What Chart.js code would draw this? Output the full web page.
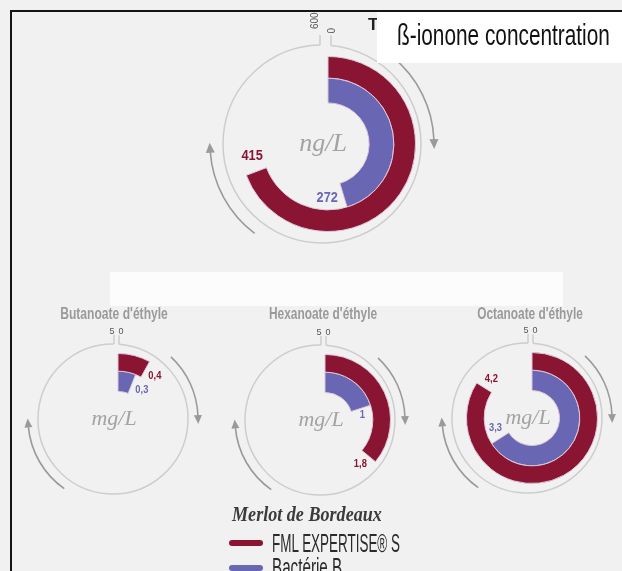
<!DOCTYPE html>
<html>
<head>
<meta charset="utf-8">
<script src="https://cdn.jsdelivr.net/npm/chart.js@4"></script>
<style>
  html,body{margin:0;padding:0;}
  body{width:622px;height:571px;position:relative;overflow:hidden;background:#f1f1f1;font-family:"Liberation Sans",Arial,sans-serif;}
  .abs{position:absolute;}
  canvas{position:absolute;}
  #frame{left:10px;top:10px;width:640px;height:600px;border-left:2px solid #151515;border-top:2px solid #151515;z-index:5;}
  #strip{left:110px;top:272px;width:453px;height:34px;background:#fcfcfc;}
  #tbox{left:377px;top:12px;width:260px;height:51px;background:#ffffff;z-index:4;}
  #title{left:397px;top:20px;font-size:30px;line-height:30px;color:#111;z-index:6;white-space:nowrap;transform-origin:0 0;}
  #tee{left:368px;top:15px;font-size:17px;font-weight:bold;color:#222;z-index:3;}
  .sub{top:305px;font-size:16px;font-weight:bold;color:#9a9a9a;white-space:nowrap;transform-origin:50% 0;}
  #merlot{left:232px;top:502px;font-family:"Liberation Serif",serif;font-style:italic;font-weight:bold;font-size:21px;color:#3b3b3b;white-space:nowrap;transform-origin:0 0;}
  .sw{width:34px;height:6px;border-radius:3px;}
  .lt{font-size:25px;line-height:25px;color:#2b2b2b;white-space:nowrap;transform-origin:0 0;}
</style>
</head>
<body>
<div id="strip" class="abs"></div>
<div id="tbox" class="abs"></div>
<div id="tee" class="abs">T</div>
<div id="title" class="abs"></div>
<div id="frame" class="abs"></div>
<canvas id="c0" width="280" height="280" style="left:188px;top:4px;"></canvas>
<canvas id="c1" width="200" height="200" style="left:18px;top:319px;"></canvas>
<canvas id="c2" width="200" height="200" style="left:225px;top:320px;"></canvas>
<canvas id="c3" width="200" height="200" style="left:432px;top:318px;"></canvas>
<div id="sub1" class="abs sub" style="left:114px;"></div>
<div id="sub2" class="abs sub" style="left:323px;"></div>
<div id="sub3" class="abs sub" style="left:530px;"></div>
<div id="merlot" class="abs">Merlot de Bordeaux</div>
<div class="abs sw" style="left:229px;top:540px;background:#8a1533;"></div>
<div id="lg0" class="abs lt" style="left:272px;top:531px;"></div>
<div class="abs sw" style="left:229px;top:565px;background:#6967b3;"></div>
<div id="lg1" class="abs lt" style="left:272px;top:555px;"></div>
<script>
// ---- data ----
const categories = ["ß-ionone concentration", "Butanoate d'éthyle", "Hexanoate d'éthyle", "Octanoate d'éthyle"];
const seriesNames = ["FML EXPERTISE® S", "Bactérie B"];
const fmlValues = [415, 0.4, 1.8, 4.2];
const bacterieValues = [272, 0.3, 1, 3.3];
const scaleMax = [600, 5, 5, 5];
const tickLabels = [["600", "0"], ["5", "0"], ["5", "0"], ["5", "0"]];
const units = ["ng/L", "mg/L", "mg/L", "mg/L"];

// ---- styles ----
const RED = "#8a1533", BLUE = "#6967b3", SEP = "#dcc6d8";
const GRAY = "#cdcdcd", ARROW = "#9a9a9a";

document.getElementById("title").textContent = categories[0];
document.getElementById("sub1").textContent = categories[1];
document.getElementById("sub2").textContent = categories[2];
document.getElementById("sub3").textContent = categories[3];
document.getElementById("lg0").textContent = seriesNames[0];
document.getElementById("lg1").textContent = seriesNames[1];

// condense text to target widths (the original uses a condensed typeface)
function fit(id, w, centred) {
  const el = document.getElementById(id);
  const s = w / el.offsetWidth;
  el.style.transform = (centred ? "translateX(-50%) " : "") + "scaleX(" + s + ")";
}
fit("title", 213);
fit("sub1", 108, true); fit("sub2", 108, true); fit("sub3", 106, true);
fit("lg0", 128); fit("lg1", 70);
fit("merlot", 150);

function fmt(v){ return String(v).replace(".", ","); }
const deg = d => (d - 90) * Math.PI / 180;

const deco = {
  id: "deco",
  beforeDatasetsDraw(chart, args, o) {
    const el = chart.getDatasetMeta(0).data[0];
    const ctx = chart.ctx;
    const gx = el.x + o.gdx, gy = el.y, gR = o.gR;
    ctx.save();
    const tl = el.x + o.tickL, tr = el.x + o.tickR;
    const aR = -Math.PI/2 + Math.asin((tr - gx)/gR);
    const aL = -Math.PI/2 + Math.asin((tl - gx)/gR) + 2*Math.PI;
    ctx.strokeStyle = GRAY; ctx.lineWidth = 1.5;
    ctx.beginPath(); ctx.arc(gx, gy, gR, aR, aL); ctx.stroke();
    const yL = gy - Math.sqrt(gR*gR - (tl-gx)*(tl-gx));
    const yR = gy - Math.sqrt(gR*gR - (tr-gx)*(tr-gx));
    ctx.beginPath();
    ctx.moveTo(tl, yL); ctx.lineTo(tl, yL - o.tickLen);
    ctx.moveTo(tr, yR); ctx.lineTo(tr, yR - o.tickLen);
    ctx.stroke();
    ctx.fillStyle = "#555";
    ctx.font = o.tickFont;
    if (o.rotated) {
      ctx.textAlign = "left"; ctx.textBaseline = "middle";
      ctx.save(); ctx.translate(tl - 5, yL - o.tickLen - 6); ctx.rotate(-Math.PI/2); ctx.fillText(o.ticks[0], 0, 0); ctx.restore();
      ctx.save(); ctx.translate(tr + 1, yR - o.tickLen - 2); ctx.rotate(-Math.PI/2); ctx.fillText(o.ticks[1], 0, 0); ctx.restore();
    } else {
      ctx.textAlign = "center"; ctx.textBaseline = "alphabetic";
      ctx.fillText(o.ticks[0], tl - 2, yL - o.tickLen - 1);
      ctx.fillText(o.ticks[1], tr + 2, yR - o.tickLen - 1);
    }
    ctx.strokeStyle = ARROW; ctx.fillStyle = ARROW; ctx.lineWidth = 1.6;
    const arrow = (a0, a1) => {
      ctx.beginPath(); ctx.arc(gx, gy, o.aR, deg(a0), deg(a1)); ctx.stroke();
      const t = deg(a1);
      const px = gx + Math.cos(t)*o.aR, py = gy + Math.sin(t)*o.aR;
      const tx = -Math.sin(t), ty = Math.cos(t);
      const nx = Math.cos(t), ny = Math.sin(t);
      const h = o.head;
      ctx.beginPath();
      ctx.moveTo(px + tx*h, py + ty*h);
      ctx.lineTo(px + nx*h*0.5 - tx*1, py + ny*h*0.5 - ty*1);
      ctx.lineTo(px - nx*h*0.5 - tx*1, py - ny*h*0.5 - ty*1);
      ctx.closePath(); ctx.fill();
    };
    arrow(o.rArc[0], o.rArc[1]);
    arrow(o.lArc[0], o.lArc[1]);
    ctx.fillStyle = "#a3a3a3";
    ctx.font = o.unitFont;
    ctx.textAlign = "center"; ctx.textBaseline = "middle";
    ctx.fillText(o.unit, gx + 1, gy);
    ctx.restore();
  },
  afterDatasetsDraw(chart, args, o) {
    const ctx = chart.ctx;
    ctx.save();
    ctx.font = o.valFont;
    ctx.textAlign = "center"; ctx.textBaseline = "middle";
    chart.data.datasets.forEach((ds, i) => {
      const el = chart.getDatasetMeta(i).data[0];
      const r = (el.innerRadius + el.outerRadius)/2;
      const txt = fmt(ds.data[0]);
      const w = ctx.measureText(txt).width;
      const a = el.endAngle + (w/2 + o.gap)/r;
      ctx.fillStyle = ds.backgroundColor[0];
      ctx.save();
      ctx.translate(el.x + Math.cos(a)*r, el.y + Math.sin(a)*r);
      ctx.scale(0.85, 1);
      ctx.fillText(txt, 0, 0);
      ctx.restore();
    });
    ctx.restore();
  }
};

const layouts = [
  {pad: 52, cutout: "47%", gdx: -6, gR: 99, tickL: -8, tickR: 3, tickLen: 10, rotated: true, tickFont: "10px 'Liberation Sans'", aR: 112, head: 9, rArc: [39, 88], lArc: [217, 266], unitFont: "italic 26px 'Liberation Serif'", valFont: "bold 15px 'Liberation Sans', sans-serif", gap: 4},
  {pad: 34, cutout: "42%", gdx: -5, gR: 75, tickL: -4, tickR: 1, tickLen: 9, rotated: false, tickFont: "9px 'Liberation Sans'", aR: 85, head: 8, rArc: [43, 88], lArc: [215, 265], unitFont: "italic 22px 'Liberation Serif'", valFont: "bold 11px 'Liberation Sans', sans-serif", gap: 4},
];

for (let i = 0; i < 4; i++) {
  const L = layouts[i === 0 ? 0 : 1];
  new Chart(document.getElementById("c" + i), {
    type: "doughnut",
    data: {
      labels: [categories[i], ""],
      datasets: [
        {label: seriesNames[0], data: [fmlValues[i], scaleMax[i] - fmlValues[i]], backgroundColor: [RED, "rgba(0,0,0,0)"], borderColor: [SEP, "rgba(0,0,0,0)"], borderWidth: [1, 0], weight: 1},
        {label: seriesNames[1], data: [bacterieValues[i], scaleMax[i] - bacterieValues[i]], backgroundColor: [BLUE, "rgba(0,0,0,0)"], borderColor: [SEP, "rgba(0,0,0,0)"], borderWidth: [1, 0], weight: 1.15}
      ]
    },
    options: {
      responsive: false, animation: false, cutout: L.cutout,
      layout: {padding: L.pad},
      plugins: {legend: {display: false}, tooltip: {enabled: false},
        deco: Object.assign({}, L, {ticks: tickLabels[i], unit: units[i]})}
    },
    plugins: [deco]
  });
}
</script>
</body>
</html>
